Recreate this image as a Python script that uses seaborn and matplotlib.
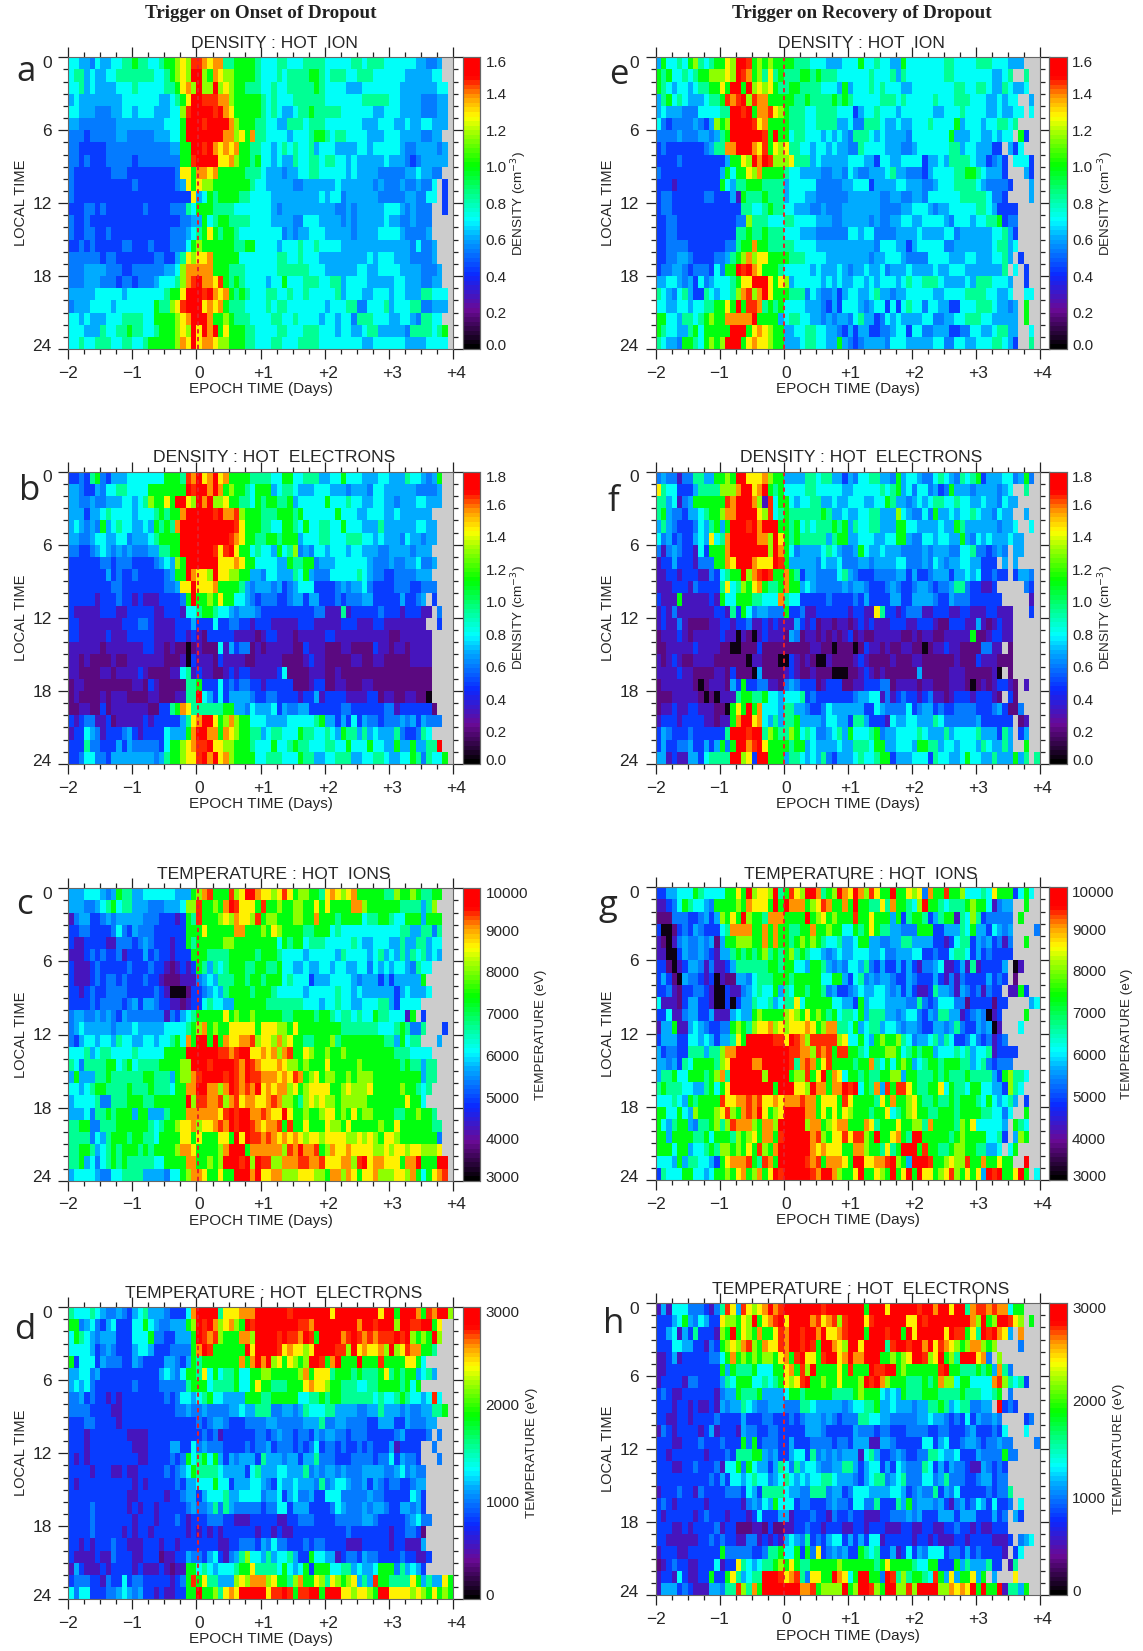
import numpy as np
import pandas as pd
import matplotlib
matplotlib.use('Agg')
import matplotlib.pyplot as plt
import seaborn as sns
from matplotlib.colors import LinearSegmentedColormap
from matplotlib.transforms import ScaledTranslation

sns.set_style('white')
plt.rcParams['font.family'] = ['Liberation Sans', 'DejaVu Sans']

W, H = 1143, 1651

# cell values, one colour level per cell ('.' = no data, grey)
# each row is local time 0..24, each group of 12 cells is one day of epoch time
LEVELS = {'0': .03, '1': .12, '2': .18, '3': .28, '4': .34, '5': .39, '6': .44,
          '7': .52, '8': .62, '9': .72, 'a': .80, 'b': .86, 'c': .91, 'd': 1.0}

panel_a = [
    "665546556677 877667889a9c cbabb7788887 666776667777 666667767776 6666655445..",
    "677565566777 777766789a9d d98ba9988887 666767777887 677766777666 6665555566..",
    "667565555666 766666778ab9 d99d9a988777 667667777787 666655566666 66555555566.",
    "565555555566 6666655678ad dcccbb988888 767666777777 666666677777 66555544455.",
    "665554445566 566655566 9cd dddcdba88888 767655677877 777666666556 66555544455.",
    "554444444555 5555556668dd dcddddb98887 766557776777 666666655566 65565566555.",
    "444344444554 44445556 68dd dddddbb9a8b7 766665666788 767766665556 6655554455..",
    "443333344444 44444445588d dcdbabab8877 665676766756 665555665666 66544555545.",
    "443433344444 34444444488c ddddaab98878 665655766776 776656555556 55543455555.",
    "433333334443 333333334aa8 bbab88888777 655545566776 666656555544 4445565544..",
    "433333333333 4333333345a8 a99888888876 655555445555 556555555454 445445446.3.",
    "433333333333 33333333333a 568788887766 665555555556 566455555544 444554466.3.",
    "333443433333 334333344476 888777766666 665455555555 554454555556 66545444..3.",
    "433433333333 333333333445 586788777766 665555446665 555454555556 55445444....",
    "433443343333 333333344456 78a878876666 666645455666 555554555566 66544445....",
    "334343333344 33343334 4468 988888877886 666566676676 666555555555 555546445...",
    "444444344333 333344335 7a9 aab888886666 666776676665 555555556566 655544445...",
    "444555544433 444444556 9bb bbb888777666 666777777666 555555665566 66555544 45..",
    "444555444344 34445666 79bc dbbac8787666 656686667776 677566665555 5665554455..",
    "555556666656 666666788add dcdbab878766 677667667666 667566655666 56655577666.",
    "455566665666 66668779acdd dabab8777666 676776666666 566677446667 56667744555.",
    "665655566677 776688889abd ddb889877766 667766766665 665664777666 5566547766..",
    "666555766778 776678889a9d adbd8a888776 666776667776 665665567755 55547777678.",
    "667667776677 667888889bad abba99888776 667766677776 666666655666 66655556666.",
]
panel_e = [
    "586676897678 8a9ddc898988 887776665556 668667665586 666666776666 777666555...",
    "878667678899 9a9dcb897a78 777887877766 666676667576 666666776666 6665567..7..",
    "876566567788 a8dd8d9a9a87 788777766658 566676766655 666666667766 7765576556..",
    "578676555677 8cbcd9cbb888 887787777878 766666777676 666676667776 66556566..5.",
    "565554446666 77ddcd8bbca9 877766777766 635667666566 666655666766 665565566.6.",
    "643444454359 89ddddcab888 877766777755 644777655655 666766668566 65667767....",
    "444454445545 78ddddddc8d8 867766656565 477765655554 666666685556 6556566.83..",
    "343333333457 7bbdddbac8a9 a77665665655 447666655544 566666677566 55533.536...",
    "333343333333 3588a9dbdc99 9a7775655555 666553665566 663556577776 553453.6663.",
    "433333333333 58688a9b8888 766555544554 654455567554 443566667788 765553...53.",
    "333233333333 865778887777 566666444445 566635555665 554456667777 6544443...5.",
    "344333333443 335287778777 566655444444 555555445544 554666666777 776443....5.",
    "344333333333 333377667877 665554454445 555555444455 666545566666 77653333....",
    "334433333333 333449777666 776666555445 555545445566 556666546665 66778344....",
    "334433333333 333778778777 666555444444 665664444555 565555664555 55566753....",
    "334444333333 344788b88777 776666555555 555554666553 566666445555 55567756....",
    "334455433334 4578 9b9aa888 877766665555 555545566654 444666655566 5556675.3...",
    "344554344436 488dcdba8887 666665655565 455655645556 555565566655 555557.6.3..",
    "556654536456 6678aaddda8a 956666656565 566565666567 667776555565 7776665..3..",
    "765467533765 6679bc9bda88 877746544535 665567554556 666655666677 77665 56..66.",
    "665566566778 8a8d8ccb7878 666655543536 665456636367 664665533666 77765545.8..",
    "886657767898 8bbbbbd88885 677665545455 467553465655 556644556677 76655555.8..",
    "876655786888 88ddd8aba988 556677665543 535533445663 664455533446 65567755..6.",
    "765548876898 9ddd8abaa988 555677665585 434555546665 555566446655 66677653..7.",
]
panel_b = [
    "334378435556 666666888 7cb dabdab888877 776688667775 566866655566 5557665458..",
    "554335466776 6668888888dc ddbdb8988768 885677655566 655545554665 5555544445..",
    "554454455566 567988a8dda9 dbd99a887768 788778566666 866676655665 5455566555..",
    "5 5 5 3 5 5 6 7 6 6 6 6 5 6 6 6 7 8 7 8 8 b d d d d d c d b b c 9 8 8 8 7 7 7 8 8 8 7 8 6 6 6 6 6 6 8 6 6 6 5 5 6 6 6 5 5 6 5 5 5 5 5 5 . .",
    "5 6 5 4 5 4 8 5 6 7 6 6 5 5 6 5 8 7 8 7 b d d d d d d d d d d c a 8 8 8 7 7 6 6 8 8 7 6 8 6 6 7 7 6 6 8 6 6 6 5 5 5 7 5 5 5 5 5 5 6 6 5 5 .",
    "5 5 4 4 5 6 6 5 5 6 6 4 5 5 5 6 7 8 8 8 8 d d d d d d d d d c b a 8 8 7 7 8 8 7 8 8 8 5 6 6 6 7 7 6 6 6 7 7 7 6 6 5 6 5 5 5 4 6 5 5 4 5 5 .",
    "4 4 3 3 4 5 6 5 4 5 4 5 4 4 4 5 5 7 7 8 8 d d d d d d c a c d a 8 8 6 7 6 6 5 8 6 7 9 4 5 4 6 6 5 6 6 6 5 6 6 5 5 5 4 4 5 5 5 5 4 5 5 5 . .",
    "3 3 3 3 3 3 4 4 3 4 4 4 3 3 3 3 4 5 6 5 9 8 d d d d d d a a a b a 8 8 6 6 6 6 5 5 8 7 7 8 8 4 5 5 5 6 6 6 6 6 6 5 4 4 4 5 4 4 5 5 6 4 4 5 .",
    "3 3 3 3 3 3 3 5 3 4 3 3 4 3 3 3 3 3 4 5 8 8 d b a a 9 d a a 9 9 8 8 5 5 4 6 6 5 5 5 7 6 8 5 4 4 4 6 6 6 6 6 7 6 5 4 4 3 3 4 4 4 4 5 5 5 .",
    "3 3 3 3 3 3 3 3 4 4 3 3 3 3 3 3 3 3 4 4 5 a a d a a a b 8 8 8 8 7 5 4 5 5 5 4 5 3 4 5 6 6 6 3 3 3 3 4 5 4 5 5 6 4 3 3 3 3 4 4 4 3 3 4 4 4 . .",
    "3 3 3 3 3 2 3 3 3 4 3 3 2 3 2 2 2 3 3 3 3 4 8 d 8 8 9 8 a 8 8 6 6 5 4 3 4 4 4 3 3 4 5 5 3 5 5 3 3 3 4 3 4 4 4 5 5 3 3 3 3 3 5 3 3 4 5 .3 .",
    "3 2 2 2 2 2 3 3 3 2 2 3 3 3 3 3 2 2 3 3 3 2 6 6 7 8 8 7 6 6 5 4 5 5 5 4 3 3 3 3 3 3 3 3 3 3 4 4 2 2 2 7 2 3 3 3 3 3 4 3 3 3 2 3 3 3 2 2 . 4 .",
    "3 3 2 2 2 2 2 2 2 2 3 3 3 4 4 3 2 2 2 2 3 3 3 5 3 3 3 6 3 3 4 4 3 3 2 3 3 3 2 2 2 2 2 3 3 3 2 2 2 2 2 3 3 3 2 2 2 3 3 2 2 2 2 2 2 2 2 . . 3 .",
    "3 3 2 2 2 2 2 3 2 2 2 3 3 3 3 3 2 2 2 2 3 3 2 3 2 1 3 3 3 3 3 2 2 2 2 1 2 3 3 2 2 2 1 2 2 2 2 2 3 3 2 2 2 2 2 2 2 2 2 2 1 1 2 2 2 2 2 2 . . . .",
    "2 2 2 2 2 2 1 2 2 2 2 2 2 2 3 3 2 2 1 2 1 1 0 1 2 1 1 1 6 2 5 3 4 4 1 2 1 2 2 2 2 2 1 1 3 2 2 2 1 1 1 2 2 1 1 1 1 3 2 2 1 2 2 1 2 2 2 2 . . . .",
    "2 2 1 2 1 1 1 1 2 1 1 2 2 2 2 2 2 2 1 1 1 2 0 3 2 2 2 1 3 2 2 2 2 1 1 2 2 2 2 2 1 1 1 1 2 3 2 2 1 1 1 1 1 2 2 1 1 2 2 1 1 1 1 1 2 2 2 2 . . . .",
    "2 2 1 1 1 1 2 2 1 2 2 2 2 3 2 1 1 1 1 2 2 6 7 2 3 2 2 1 1 2 3 2 3 3 2 2 2 2 2 3 6 1 1 1 1 2 2 2 1 1 2 1 1 1 1 1 1 1 1 1 1 1 1 1 1 1 1 1 . . . .",
    "1 2 2 1 1 1 1 1 1 1 1 1 2 2 1 3 2 1 1 1 1 1 7 7 8 3 3 3 6 3 4 3 4 4 3 3 2 3 3 3 3 3 1 1 1 2 3 3 1 1 2 2 1 1 1 2 2 1 1 1 1 1 1 1 1 1 1 1 . .",
    "1 2 1 1 1 1 2 1 2 2 2 1 1 1 1 2 2 1 1 1 2 2 7 7 d 6 5 3 6 3 5 5 5 5 4 3 3 4 4 3 3 3 3 2 3 3 5 2 3 3 3 3 2 2 2 2 3 3 1 2 2 1 1 2 2 1 1 0 . .",
    "1 1 2 2 1 1 3 1 2 2 2 2 2 2 2 1 1 3 3 7 8 b a 7 7 7 7 7 7 8 8 5 5 4 6 5 5 5 6 3 5 4 4 5 5 3 3 3 3 3 3 4 4 3 3 3 3 3 3 4 4 2 3 3 3 3 3 3 1 .",
    "3 2 3 4 4 2 2 3 1 2 2 2 2 2 3 2 3 3 3 3 3 5 7 a b d d a 8 9 b 9 8 8 6 6 6 5 5 5 5 6 6 6 6 6 7 8 5 5 3 5 3 6 3 5 4 4 3 4 4 4 5 4 5 3 5 4 4 4 . .",
    "2 3 3 6 5 4 2 3 3 3 4 5 3 2 3 3 3 3 6 5 5 5 8 b d d b b 8 b a 9 8 8 7 7 5 6 7 7 6 6 6 8 7 7 6 6 7 6 5 8 7 7 5 7 5 6 5 5 5 7 4 3 3 4 7 6 . .",
    "3 3 3 7 4 4 3 3 3 5 3 5 4 4 4 4 4 3 6 8 8 9 a b c c d a a 9 9 8 8 8 7 6 6 6 8 6 6 7 8 7 7 6 6 6 7 7 6 6 8 6 6 6 8 6 6 5 5 8 5 5 8 5 5 7 7 d .",
    "3 3 4 6 6 4 4 3 5 5 5 5 5 5 5 5 4 5 7 8 8 9 a a c d b d a b 9 8 8 8 8 6 6 7 7 7 6 6 6 8 7 7 5 5 6 6 7 7 7 5 5 6 6 7 7 6 5 5 6 6 8 7 4 7 6 6 8 .",
]
panel_f = [
    "4 5 4 4 2 4 4 7 7 5 5 8 8 9 8 d d a a a b 9 8 8 5 5 5 5 7 7 6 7 7 5 5 3 5 4 6 6 7 7 5 5 4 8 5 6 6 5 4 4 6 7 6 5 4 7 6 7 8 3 5 5 5 6 6 4 5 8 4 . . .",
    "a 7 6 6 3 3 3 5 7 7 7 7 9 9 9 b d d a b d 8 7 8 6 6 6 6 7 7 6 6 6 6 6 5 5 6 6 6 6 6 7 6 7 8 5 6 4 6 6 4 5 3 4 8 5 5 5 4 5 5 5 5 4 5 6 . . 7 . . .",
    "7 7 5 6 2 4 5 8 8 8 8 8 8 c b d d d b 9 2 c 6 8 8 6 5 6 6 7 7 5 5 6 5 5 6 6 6 5 5 6 6 8 7 5 5 4 5 6 5 6 7 7 6 6 7 6 6 5 5 6 5 5 4 6 5 5 . . . . .",
    "7 8 5 4 4 3 5 5 6 7 8 8 9 b b d d d d a 9 c 6 7 8 7 7 7 7 7 7 8 7 5 5 6 5 5 6 6 7 7 5 5 5 9 6 5 4 4 6 4 8 5 5 6 5 6 6 7 6 5 5 4 6 5 5 . . 5 . . .",
    "5 7 5 4 3 3 3 4 6 5 7 8 5 8 d d d c d b d d d 8 8 7 8 6 7 6 7 7 7 8 7 8 5 7 6 6 7 7 5 5 5 8 8 6 6 5 5 5 5 6 5 5 8 7 5 5 5 5 5 5 4 5 5 6 . . 6 . .",
    "6 4 5 3 4 3 3 5 6 5 a 6 7 b d d d d d b b 9 d a 8 7 8 7 7 7 7 7 5 7 8 8 5 5 6 6 6 5 5 6 6 8 8 5 4 4 6 6 5 6 6 5 5 8 5 4 6 5 6 5 5 5 6 5 5 . . . . .",
    "4 2 4 5 4 3 3 2 6 3 8 8 8 b d d d d d d d 9 d b 8 6 4 5 5 5 5 6 7 6 5 4 4 5 8 6 5 5 6 5 5 5 4 4 4 4 5 4 5 5 5 4 4 6 6 7 4 4 3 4 5 4 . 5 5 . . .",
    "2 3 3 5 3 3 3 2 4 4 4 8 8 b a d d d b a a a d c 8 5 5 5 5 5 4 6 5 5 6 4 4 4 5 5 4 5 5 5 5 6 6 4 4 4 5 4 6 5 4 5 5 6 6 5 5 3 3 3 . 5 . 5 . . . .",
    "2 2 3 3 2 3 3 3 2 2 4 3 6 7 8 8 d 9 b c d c 8 8 b 8 7 3 5 5 4 4 4 4 6 7 5 4 3 3 3 4 4 4 4 5 5 3 5 3 3 4 5 5 5 3 5 5 6 5 6 3 3 4 3 3 . 3 5 5 4 .",
    "2 2 2 3 3 3 2 4 3 3 3 3 7 a 6 7 9 8 a b 8 7 7 8 b 8 8 5 6 5 4 4 4 4 4 5 4 5 5 4 3 3 3 4 5 4 3 3 4 5 5 4 3 4 4 5 7 7 4 3 3 2 2 3 . . . . . 4 3 .",
    "3 2 2 2 8 2 2 2 2 2 3 2 8 6 6 8 8 8 7 7 6 6 6 b 7 6 6 3 3 3 3 3 4 3 3 3 3 4 3 5 3 3 3 3 5 5 3 3 5 5 5 5 4 3 3 5 4 4 4 3 3 3 3 3 3 . . . . . 2 .",
    "2 3 2 4 2 2 2 2 2 2 2 3 3 2 7 3 8 6 4 5 5 4 4 4 8 3 3 4 2 2 3 3 3 3 3 3 2 3 3 2 2 a 7 3 3 2 3 4 4 4 2 2 3 3 3 2 2 3 3 2 2 2 3 3 2 2 2 . . . 3 .",
    "2 3 2 2 4 2 1 1 1 1 2 2 3 3 2 3 3 4 2 2 3 2 3 2 2 2 5 3 2 3 1 2 2 1 2 2 1 2 3 2 3 2 2 2 3 3 3 2 2 3 3 3 2 1 1 3 3 3 2 2 5 2 1 2 3 2 2 . . . . . .",
    "1 2 2 2 3 2 1 2 2 2 2 2 3 2 2 0 2 1 0 2 3 2 2 2 1 5 4 1 2 2 1 2 1 2 1 2 3 1 2 1 1 2 2 2 2 2 1 1 2 1 2 2 1 1 2 2 2 2 2 8 1 1 2 3 3 2 2 . . . . . .",
    "1 1 2 2 2 2 2 3 2 2 2 2 1 1 0 0 1 1 1 3 1 1 1 1 1 1 1 1 1 2 2 1 1 0 1 1 1 0 1 3 2 2 1 2 1 1 2 2 1 1 0 1 2 2 3 2 2 1 1 1 1 4 4 2 2 . 1 . . . .",
    "2 1 2 3 2 1 1 2 2 2 2 1 1 1 1 1 1 0 2 2 1 1 1 0 0 3 2 1 2 1 0 0 2 1 1 1 1 2 3 2 1 1 1 1 2 1 1 1 2 2 1 1 1 1 1 1 2 1 1 1 3 2 2 2 1 1 1 . . .",
    "2 2 2 2 3 2 2 1 1 1 1 2 2 1 3 1 1 1 0 5 1 1 1 1 2 3 2 1 1 2 1 1 1 0 0 0 1 1 2 3 2 1 2 1 1 1 1 1 1 5 1 1 1 1 1 2 2 2 1 1 1 1 1 2 0 . 1 . . .",
    "1 2 2 2 2 2 2 1 0 1 2 2 2 1 5 3 8 3 3 4 4 2 2 1 4 5 4 3 3 3 1 2 3 3 3 1 1 2 2 3 3 3 4 4 1 2 2 2 2 1 2 2 1 1 1 2 2 2 1 0 1 2 1 2 3 3 2 1 . 2 . .",
    "1 1 1 2 2 2 2 2 1 0 1 0 2 2 2 7 8 8 7 7 8 6 6 5 6 6 6 7 3 4 3 3 3 3 3 3 3 4 5 5 6 6 2 4 2 3 4 3 3 2 3 4 2 2 1 2 3 3 3 2 3 3 3 2 1 . 3 1 . .",
    "1 2 2 3 2 2 3 3 2 2 2 1 1 0 8 a 8 d 8 b 6 6 6 5 7 7 5 5 4 3 3 4 6 5 5 5 5 5 5 3 3 6 5 4 4 4 4 6 3 4 5 5 3 4 3 3 4 4 4 4 3 3 3 4 5 3 1 1 4 .",
    "2 3 3 3 2 3 3 3 3 2 2 1 2 2 8 b d d a b 6 5 7 5 7 7 8 5 5 5 5 4 6 6 5 5 3 7 7 5 3 3 3 2 6 5 5 6 6 5 5 5 7 6 4 4 4 4 4 4 5 3 3 3 3 3 3 . 1 2 .",
    "3 5 4 3 3 3 4 3 3 3 3 3 3 7 d d d c d d 7 9 8 7 7 9 8 6 7 6 4 4 5 6 7 5 8 6 6 6 7 8 4 5 5 6 6 6 6 7 6 5 5 5 7 5 6 6 6 6 7 5 5 5 3 7 5 . 3 5 .",
    "3 5 3 3 4 4 5 3 3 5 3 5 8 4 8 d d b c d a 8 8 8 8 7 8 8 5 6 5 5 5 5 6 5 5 7 7 7 6 8 8 5 5 6 6 6 5 8 8 7 7 5 6 6 5 6 6 6 5 7 6 5 5 7 5 . . 8 . .",
    "5 5 2 3 2 2 5 5 3 6 7 7 7 7 d d 9 a 3 d d 8 8 8 5 7 7 6 5 6 5 7 4 3 5 5 5 6 7 6 6 7 8 8 3 5 5 5 6 6 6 3 7 6 6 5 5 6 8 6 6 5 5 7 5 5 5 8 5 7 . 7 .",
]
panel_c = [
    "555666 545877 5 5 6 6 6 6 6 6 5 5 5 8 9 b c 8 8 8 c 9 a d d b a a 9 a c a 8 9 9 8 8 7 a b a 9 a b 8 8 8 8 8 7 7 9 8 8 9 8 7 7 8 8 .",
    "5 5 5 4 4 5 6 7 8 6 7 7 5 5 5 4 4 4 5 5 5 6 9 9 c 8 8 9 8 b d c a a a 8 c 8 8 9 8 8 9 9 8 8 a 8 a 8 8 8 8 b b 9 8 8 8 8 8 8 7 7 7 7 5 7 9 . .",
    "2 4 5 5 3 3 4 5 4 5 5 5 5 5 4 4 4 3 3 3 2 3 8 7 c 8 8 8 9 a 9 b a a 9 c 8 9 9 8 8 8 9 9 8 8 b 8 8 8 7 8 8 8 8 6 7 7 8 8 7 6 6 8 8 8 5 8 8 8 .",
    "3 3 4 4 3 3 3 3 4 6 4 3 5 4 4 4 3 3 3 3 3 3 8 8 8 a 8 8 8 8 8 b b 8 8 8 9 8 a 9 8 8 8 8 7 7 8 8 8 6 7 6 6 6 6 6 6 6 6 6 6 6 7 7 5 5 7 7 4 7 .",
    "3 2 2 3 3 3 3 2 2 4 4 4 3 4 5 4 3 3 3 2 3 3 8 7 8 8 8 8 8 9 9 8 8 8 8 8 8 8 8 6 8 7 8 8 6 7 7 7 6 6 6 6 6 7 6 5 5 6 6 6 5 5 7 5 5 7 7 5 6 6 .",
    "2 2 2 3 4 3 4 3 3 4 2 3 3 3 5 3 4 3 3 2 3 3 3 8 8 8 7 7 7 7 8 8 8 8 8 7 8 8 8 7 6 6 6 6 5 6 6 6 6 6 5 7 6 6 6 6 5 6 7 5 6 5 7 5 7 6 7 5 6 5 .",
    "3 2 2 2 3 4 3 3 3 3 3 4 3 3 3 4 3 3 2 1 2 3 2 3 8 7 5 7 6 7 8 8 8 7 7 8 8 7 7 8 6 6 5 5 6 5 5 6 6 5 6 6 5 5 6 6 4 6 5 6 5 6 6 5 4 7 6 6 . .",
    "3 2 2 2 3 4 3 4 4 3 4 3 3 3 4 3 3 2 1 1 1 2 2 2 4 5 6 5 7 7 7 8 8 7 8 8 7 8 8 8 6 7 6 6 6 3 5 5 5 6 6 6 6 5 4 5 5 5 3 5 3 5 5 5 5 5 8 . .",
    "3 3 2 3 4 3 3 4 4 4 4 3 3 3 3 3 4 3 2 0 0 0 1 3 3 4 5 6 5 7 8 8 8 8 7 8 8 8 7 6 6 6 6 6 5 6 6 6 6 6 7 6 6 5 6 5 5 5 5 5 5 3 5 6 5 5 5 6 .",
    "3 3 3 3 4 3 4 4 4 4 3 4 5 3 5 5 4 3 3 2 2 1 2 3 3 6 7 6 6 5 5 8 8 8 8 8 8 7 7 7 7 7 7 7 6 6 6 5 6 6 7 6 6 5 5 6 6 6 7 7 5 3 6 6 6 6 . . . . .",
    "4 5 5 4 4 5 4 5 4 3 5 4 4 4 4 4 4 4 2 4 3 5 6 7 8 8 8 8 8 a 8 9 8 8 9 8 8 8 8 8 7 7 8 8 8 8 7 8 8 7 6 7 7 6 7 6 6 8 7 7 6 6 6 2 8 . 3 . .",
    "4 5 6 5 5 5 5 5 4 5 5 5 6 5 5 5 5 5 6 6 6 6 7 8 9 b 8 9 8 8 a a a a a 8 a a a 9 9 8 a 8 8 8 8 8 8 8 8 7 7 7 7 7 7 7 6 6 6 7 8 7 4 4 7 . . . 3 .",
    "4 3 5 6 6 5 6 6 5 7 6 6 5 5 6 6 5 6 6 7 8 6 b 8 d d 8 d 8 b a a b b c 9 a a 9 b 9 a 8 8 7 7 8 8 8 9 7 8 8 8 8 8 8 8 8 7 7 5 8 6 7 7 . . . 5 .",
    "6 6 6 7 5 6 7 7 6 6 6 6 7 6 6 6 6 6 8 8 8 8 d d d d d d c c b c d d a a b a b 9 b c 8 8 a 9 8 8 9 8 8 9 8 8 8 8 8 8 8 8 8 7 7 7 6 6 6 6 . . . . . .",
    "7 6 4 7 7 7 7 8 8 6 7 8 6 7 7 7 7 8 8 8 8 9 9 d d d c d d d d c b d c b a a a b a 9 9 8 9 8 8 8 a 8 8 8 8 8 9 8 8 8 8 8 8 8 7 8 7 7 5 7 7 . . . . . .",
    "5 8 5 5 5 7 7 8 7 7 7 7 7 7 8 8 7 7 7 5 8 9 9 b c d d d d c d c b d c c b b b a b a c b 8 9 a 8 9 9 8 8 9 8 9 9 9 8 8 8 8 8 8 8 8 8 5 7 7 . . . . . .",
    "6 6 5 6 7 8 8 7 7 7 7 8 7 7 7 8 7 7 7 6 8 8 b b d d b b 9 b d c b c b d a b a b b 9 a 8 9 a a a a 8 8 9 a 9 9 9 a 8 8 8 8 8 9 8 8 7 6 7 . . . . .",
    "5 6 6 6 6 7 4 4 7 7 7 8 8 8 7 7 8 8 8 8 8 8 d 9 c c b b c 9 b c a b b a a b c b 9 9 8 7 9 a 9 a 9 9 8 9 9 9 9 9 8 8 8 8 8 8 8 a 8 8 6 . . . .",
    "5 5 5 6 4 7 7 8 7 8 8 8 5 8 8 5 5 5 7 8 8 8 b b b b b b a c d c d d b b c b a a d a 8 8 9 8 8 9 a a 8 9 8 a 8 9 9 8 8 8 8 7 7 8 8 9 8 8 7 . . .",
    "7 7 8 8 4 4 7 7 7 8 8 8 8 8 8 7 6 7 8 8 9 a a b 9 a a b c b d c d d c b a b b c 8 c 8 8 a 8 8 8 a 9 9 8 a 8 8 8 8 8 9 8 8 a 8 8 8 8 8 8 7 7 . .",
    "7 7 7 7 4 6 5 7 8 8 8 7 8 8 7 7 6 8 8 8 8 a a 8 a 8 8 8 a a 8 d a d c c b c b a b a b a 9 a a 9 a a a a 9 9 a 9 a 9 8 a a 9 8 8 8 8 8 8 8 4 .",
    "7 7 8 8 7 5 6 7 8 7 8 8 8 7 8 7 8 8 8 8 9 b b a 8 8 8 8 9 b d d d 8 b b b b b b 9 c b d b b c 8 9 b a a b a a a a 9 9 a 9 a a 9 a a 9 9 9 a . .",
    "7 7 8 5 6 4 6 7 8 7 8 7 7 7 7 7 6 6 8 8 8 8 b b 8 8 9 8 9 d d d c d 9 d c c 9 9 b b b c c b b c a a a b b 9 c d a b b a a a 8 b b d 8 8 8 d d .",
    "5 6 6 6 6 5 4 4 6 6 7 7 7 7 5 5 5 5 4 6 6 8 9 b b a 8 8 a 8 8 d d d b d a a b b 9 9 9 a a a 9 9 8 b b 9 b a 8 a a b 9 9 9 a a 9 b 8 6 8 a b c .",
]
panel_g = [
    "3 3 5 5 6 6 6 8 7 6 6 6 6 8 8 a 8 d 9 a a 9 d 7 8 c a 9 d d b 7 8 9 d b a d b 9 c a 8 8 d 8 8 a 9 a 4 b 8 8 c 8 8 9 6 6 6 7 6 a 8 8 8 3 6 8 6 . . .",
    "2 2 3 4 6 8 7 6 6 5 4 8 8 8 8 9 8 b a a a 8 d 8 d b b b 8 9 a c b 8 8 b 8 d 8 8 7 7 a 7 b 8 8 7 6 9 d 8 8 7 6 7 7 7 8 9 8 8 6 2 4 5 5 . . 8 . . .",
    "1 1 1 4 4 4 3 3 4 5 3 5 9 8 a 8 d 9 8 8 7 b b b 8 8 8 8 d 8 9 a 8 9 8 8 8 c 8 8 a 8 8 8 5 8 3 7 8 8 7 3 5 7 8 8 2 7 6 9 7 3 4 4 4 4 4 . 8 . . .",
    "3 0 0 1 3 4 3 5 4 3 3 3 6 7 b b b b 8 8 b 8 b 8 8 7 7 8 8 b 8 8 9 8 8 6 6 8 7 8 a 8 7 7 5 5 4 4 4 8 8 8 3 3 5 5 5 7 6 8 5 5 3 6 5 4 5 . . . . 4 .",
    "2 1 0 2 4 5 4 4 5 4 5 1 5 8 8 9 9 9 8 8 b 8 b 8 8 7 8 9 8 9 8 7 6 6 7 5 5 6 8 8 5 5 4 4 5 5 7 7 5 5 5 5 3 3 2 3 6 7 7 3 5 4 5 3 4 2 4 . . 8 . . .",
    "2 2 0 0 3 5 4 4 5 4 3 2 5 5 7 8 7 8 7 8 9 7 8 7 8 9 7 8 7 6 6 5 4 5 6 5 5 6 6 6 5 5 6 4 4 5 5 5 6 6 3 3 4 3 3 6 7 7 6 3 5 3 4 3 3 3 3 . . . . . .",
    "3 3 1 0 2 3 5 5 4 2 4 2 2 3 5 7 7 7 7 7 7 8 8 7 8 8 6 6 5 8 8 7 5 4 5 4 6 6 5 7 4 3 5 3 3 5 3 5 3 2 4 4 5 6 2 2 3 5 2 7 2 3 3 3 3 5 . 0 2 . . .",
    "3 5 3 1 0 5 4 4 3 2 3 0 2 1 1 5 5 4 6 7 7 7 8 8 8 7 8 8 8 8 8 6 6 8 8 5 3 6 7 4 5 4 5 5 4 3 3 5 4 3 3 3 5 3 2 4 2 4 3 3 3 3 5 3 4 3 . 1 . . .",
    "3 3 4 2 1 3 3 4 4 3 2 0 0 3 2 2 4 5 6 7 6 6 8 5 7 6 8 8 7 8 8 7 4 5 3 3 4 5 6 5 5 6 6 5 4 5 3 5 3 2 2 3 7 5 5 4 2 5 4 3 4 2 4 3 3 . 2 2 8 3 .",
    "6 2 2 2 1 3 5 5 3 3 2 0 0 3 0 3 5 5 7 6 6 7 5 6 7 7 a 6 8 8 8 8 8 6 6 5 5 3 8 5 6 6 6 5 5 5 5 4 4 7 4 3 4 6 6 6 4 4 1 3 3 3 3 1 3 3 . . . . 5 6 .",
    "3 3 6 2 2 4 5 5 3 3 5 2 2 2 5 6 5 5 8 9 8 8 8 8 9 a 9 8 a 8 9 8 7 8 6 7 7 6 8 5 7 7 7 5 5 4 5 6 6 4 3 5 4 7 7 5 5 2 3 4 5 4 0 2 3 . . . . 8 .",
    "2 5 5 8 2 2 5 6 5 4 3 3 4 4 8 9 8 7 9 a a b 9 a 9 a a a b a 8 9 b b 7 7 6 8 5 6 7 7 5 6 6 5 4 5 5 4 3 3 5 5 4 5 7 4 3 3 5 4 5 0 2 . . . 6 . . .",
    "3 5 5 5 3 3 6 6 5 6 5 3 5 5 7 a 8 d d d d d c c a d c b 9 c c c c c 9 a 6 6 8 6 5 8 9 8 8 9 7 6 4 5 5 6 7 5 7 6 3 3 4 6 4 3 4 2 3 4 . . . . . . .",
    "5 3 4 4 3 3 7 7 7 5 7 7 9 b b d d d d d d d d d d c c b b 9 c b c 8 c c 8 8 7 6 8 8 8 9 9 8 6 7 8 7 8 8 5 6 6 6 7 6 7 5 6 6 7 2 3 3 3 3 . . . . . .",
    "5 5 4 5 3 7 6 8 8 8 8 7 9 a d d d d b b d d d d d c 7 b c b 8 a c 8 8 8 8 7 8 8 b 7 6 8 6 8 9 8 5 6 7 8 8 7 8 8 8 7 7 5 6 7 4 3 4 4 4 . . . . . .",
    "5 7 7 8 6 6 8 8 8 7 8 9 b 7 d d d d d d 9 d d d d 8 9 9 c 8 a d 8 b a 6 8 8 7 8 7 7 8 8 9 9 5 8 8 7 7 7 8 7 8 7 7 7 8 7 7 7 7 5 3 8 9 7 7 6 . . . . .",
    "7 8 7 7 7 6 6 5 5 7 8 6 8 a d d d d d d d d 8 d d d a a 9 d b b 8 b b d c d 6 8 7 b 5 c 8 c c a 8 7 7 8 8 a 6 8 7 7 6 8 8 6 6 5 5 3 9 7 6 . . . . .",
    "6 6 6 7 6 5 8 7 8 8 8 8 c a a b b c b c a a b a b b b c b b 8 a a a 8 c a 8 8 8 8 7 a 8 b 8 8 9 a 8 7 7 8 7 7 8 7 8 8 8 7 6 8 6 5 6 7 5 . 3 . . .",
    "8 8 6 6 8 6 5 9 8 8 8 9 a c 9 8 b c b d a 8 9 a d d d d b b 8 a 8 a 8 a 9 8 8 8 7 8 8 a 6 7 8 9 a 8 8 7 7 8 8 8 7 8 8 8 8 7 7 6 6 4 6 . . 8 . . .",
    "8 6 5 7 8 8 5 4 7 7 8 9 7 9 c b b b 9 8 b b 9 d d d d d 9 b b 8 9 a b b 8 8 8 b a 7 8 8 8 a 8 8 9 9 7 b 8 8 8 8 7 9 8 a 6 6 6 6 6 5 . 8 7 6 . .",
    "8 8 5 8 8 8 8 7 7 8 6 8 8 8 7 9 8 9 a 8 b b 8 c d d d d d b c 9 8 a a c a c c 9 8 d 8 8 a b 8 7 d d 8 8 8 8 8 7 8 9 8 8 8 8 6 6 7 3 . 5 9 8 . .",
    "8 8 8 6 8 8 5 6 6 7 8 7 9 9 8 9 8 a 8 c 9 8 b d d d d d d b a b a a a 8 8 b b 9 8 8 7 a 7 8 d d d 8 c 8 8 7 7 8 9 9 8 8 7 7 5 5 6 . 6 8 . .",
    "6 6 6 5 8 5 7 7 6 6 5 3 8 a b b b c 8 7 c b 8 d d d d d c b c 8 b b b a 8 d d a a b b c d 9 8 5 d d d c 8 8 9 a 9 9 c 8 8 b 8 8 a 8 8 . . d . .",
    "3 7 6 6 6 8 8 6 6 5 6 8 8 9 8 a b 8 9 b 8 a d c d d d d d c b d d b 9 8 8 a d 8 8 a 9 8 d 8 a d 8 d a a 8 9 a c 9 8 a 8 a 5 d c d 8 8 a d 8 . 6 8 .",
]
panel_d = [
    "7 6 6 6 7 6 5 4 4 5 4 3 5 6 7 5 5 5 4 3 3 3 6 b d d d d 7 a a a b b b d d d d d d c d d d d d d d a d d d d d d d d a d d 8 d d d b 8 c b d d 9 8 . .",
    "8 8 4 5 6 4 3 5 6 3 3 3 6 6 8 6 5 4 4 5 5 5 8 9 d c d b 9 a b 9 8 d c d d d d d d d d c c b d d d d d d d d b d d c d d d 9 d d c c d d 8 a . .",
    "6 8 7 6 5 4 5 5 5 3 3 3 6 6 6 8 4 4 3 3 5 5 5 8 d c b c 9 8 8 8 b b 9 d d d d c d c c b d c 8 d d d d b c d c b c b c c c d c d 9 8 9 8 d 9 . .",
    "6 6 6 6 5 3 4 5 4 3 3 3 5 6 6 5 3 3 3 4 4 4 4 8 b d c 8 8 8 8 8 8 d a d d d d c a b a a 9 a d d d d c c 9 d a b a a b 9 d 9 a c b b 8 8 7 . .",
    "8 3 6 6 6 3 5 4 4 4 3 3 5 4 3 3 3 3 5 5 4 3 5 8 7 8 8 8 8 8 8 8 b 8 b d b d 9 a 8 a 9 8 9 d d c 8 b d 8 8 8 d 8 8 8 c 8 8 8 8 a a 8 6 . .",
    "5 5 6 6 4 5 3 3 3 3 3 3 3 3 3 3 3 5 6 5 4 6 8 8 7 a 6 8 6 7 7 8 6 6 8 8 9 9 8 8 8 8 8 9 b 8 a a a 7 8 8 8 7 8 7 7 7 8 a 7 8 7 8 8 5 6 7 5 . .",
    "5 6 5 6 4 3 3 3 3 3 3 3 4 3 3 3 3 4 4 4 4 4 7 8 8 8 6 7 7 7 7 8 6 6 8 a 8 8 7 7 7 8 8 8 a b a a 9 8 8 7 7 7 6 6 7 7 8 8 8 8 7 8 6 8 . .",
    "4 4 5 3 4 3 3 2 3 2 3 3 3 3 3 3 3 3 4 3 4 6 6 5 6 7 8 6 6 5 5 5 5 8 8 8 7 7 8 8 8 8 8 6 6 7 7 8 7 8 8 7 7 7 7 7 7 6 7 6 6 7 8 7 6 6 5 6 c 6 .",
    "4 4 4 4 3 3 3 3 2 2 3 3 3 3 3 3 3 3 3 3 4 4 5 4 4 5 4 4 4 4 5 5 6 5 5 7 7 7 4 4 5 5 4 5 7 6 6 6 7 7 5 5 5 5 4 4 5 5 7 5 5 5 4 5 4 4 5 5 7 7 8 .",
    "3 3 3 4 4 3 3 3 3 2 3 3 3 3 3 3 3 3 3 3 3 3 3 3 4 3 4 5 5 4 3 3 3 4 4 4 4 5 5 4 4 4 4 4 5 5 5 7 4 4 5 5 4 4 4 4 3 3 5 5 5 3 3 5 4 4 4 5 5 .",
    "3 3 3 2 3 3 3 3 3 3 3 2 2 2 2 3 3 3 3 3 3 3 3 3 3 4 3 4 2 3 3 3 3 3 3 4 4 3 4 5 4 4 3 4 4 3 5 4 5 5 4 4 3 4 4 4 3 3 3 3 3 4 5 3 3 3 3 4 . 4 .",
    "3 3 3 2 3 3 3 3 3 3 3 3 2 2 2 3 3 3 3 5 5 3 3 6 4 5 4 4 4 3 3 3 3 4 3 4 4 5 3 4 4 4 3 4 3 4 6 3 4 4 3 4 3 3 4 3 4 3 3 3 5 2 3 3 3 3 . . 4 .",
    "3 2 3 2 3 3 3 3 3 3 3 3 3 2 2 3 3 3 3 4 3 4 8 6 7 8 6 8 5 3 5 4 5 5 5 3 7 5 5 5 4 5 5 3 5 5 7 4 4 4 3 3 3 4 4 4 4 3 4 4 6 3 5 4 4 3 . . . 4 .",
    "3 3 3 3 2 3 3 3 2 2 3 2 2 3 3 3 3 3 4 3 4 5 6 8 7 7 7 7 6 5 5 5 5 3 6 7 5 5 5 6 6 5 5 5 7 4 5 4 5 5 4 5 4 4 4 5 5 5 5 4 4 5 6 4 5 4 4 . . . . . .",
    "3 2 3 3 3 3 3 3 3 3 3 3 2 3 2 3 3 3 3 3 4 3 5 5 6 6 6 8 6 6 3 5 5 5 6 6 5 4 3 6 5 5 6 5 5 5 4 7 4 5 6 6 5 4 4 5 3 5 4 3 4 4 3 3 4 5 5 . . . .",
    "3 3 3 3 3 3 3 3 3 3 3 2 2 3 3 3 3 3 2 3 3 4 5 5 3 5 6 6 6 7 5 5 6 6 6 6 4 5 5 6 3 5 6 4 4 5 3 3 6 6 6 4 4 4 4 4 5 4 4 3 3 3 3 3 6 5 3 . . . .",
    "3 3 3 3 4 3 3 3 3 3 3 2 3 2 3 3 2 3 3 3 3 3 4 5 4 4 5 7 4 7 5 4 4 4 4 4 3 4 4 6 6 3 5 5 5 3 3 3 3 4 6 5 4 4 4 5 4 5 5 4 3 3 5 5 4 5 3 . . . .",
    "3 3 3 3 4 3 3 3 3 3 3 3 2 3 3 3 2 3 3 3 4 3 2 3 3 3 4 4 4 3 3 2 2 2 3 3 3 3 3 2 2 3 3 4 4 4 3 3 3 3 4 4 4 4 4 5 5 4 3 3 3 3 3 4 5 6 4 4 . . . .",
    "3 3 3 3 4 3 3 3 3 3 2 3 2 3 3 2 3 3 3 3 3 3 2 3 2 3 2 3 2 3 3 3 3 3 3 2 3 3 2 3 2 2 3 3 3 3 3 3 3 3 3 3 4 3 3 3 3 3 3 3 2 3 3 4 4 3 1 . . .",
    "3 3 2 3 2 3 3 3 4 3 3 2 2 2 3 3 3 2 3 3 2 3 3 3 3 3 3 3 2 2 3 3 4 4 4 3 5 4 6 4 4 3 3 3 4 3 4 4 3 3 3 3 2 2 2 3 3 3 3 3 2 3 3 2 2 2 5 . . .",
    "3 2 2 2 2 3 2 2 4 3 3 3 2 2 3 3 3 1 2 2 3 3 5 4 4 3 5 6 3 2 4 5 7 9 6 6 5 7 5 6 6 7 5 3 3 8 6 6 5 5 2 3 4 4 3 5 4 4 3 3 3 3 4 3 3 2 2 3 .",
    "2 5 3 2 2 2 3 2 3 3 3 3 2 3 2 2 2 3 2 1 2 2 8 8 6 7 6 5 6 6 6 7 8 8 a 7 7 7 7 6 8 6 5 6 8 3 8 8 8 6 6 7 7 5 6 5 5 6 8 8 8 4 7 5 6 5 3 . . . .",
    "3 4 4 4 3 3 2 4 3 3 6 3 4 4 3 3 3 3 3 2 3 4 8 c 8 a 7 7 5 5 5 9 a 9 b b b 9 a 8 8 7 9 b 8 8 a 9 7 a 9 8 9 a 5 7 5 c 8 8 7 7 7 7 a 8 5 7 5 5 a 8 .",
    "6 4 6 6 3 3 3 4 4 5 6 5 4 5 3 3 2 3 2 2 3 3 8 8 d 8 8 9 7 a b a d d d d d a c c d c 8 c c d d 8 d d d a a 9 a a 9 8 d d a a a a 9 a 9 8 a 8 9 8 .",
]
panel_h = [
    "2 5 2 6 6 6 4 4 4 3 2 4 7 c a 5 c a 9 a b d b c d d d d d d d c d d d d d d d 8 d d d a d d d d d c d d b d d a d d 7 b c c b c b b 6 8 8 . . .",
    "3 3 3 5 6 8 5 4 6 5 3 3 a 9 9 8 a 9 d 8 a b c d a d d d d b c a b c 9 c d d d a c d d d d d d a a d c d d d d d d d d b 9 d 8 9 d d c a 9 . 8 . .",
    "3 3 5 6 2 5 3 7 3 3 3 2 9 8 d 8 a 9 8 b 8 8 a c b d d c d d b d a a b c d d d 8 d d d c d d 8 d a d d d d d a d c c 8 a 7 d c d b a 5 . b . .",
    "3 3 3 6 6 5 5 3 3 2 4 3 8 9 a 9 b c 9 8 b a a c b d d c d c 8 d d b a 9 d d a d d d d 7 c d d c d d b d a c b a 9 8 9 b b 9 8 9 . . . . 4 .",
    "2 2 3 5 2 3 3 3 3 3 4 4 6 8 b 8 9 8 9 8 9 9 8 a b 8 c d a a 8 c d d a b d b b d d d 8 8 9 8 9 a d d c 9 a d 8 9 7 d d d a b 4 . 9 . . . . .",
    "2 2 3 3 3 3 3 3 3 3 3 3 8 5 8 7 7 7 8 6 6 6 8 8 a b 8 c 9 d 8 8 8 8 a 8 c 8 8 8 d c c d d 8 9 8 8 8 8 8 8 c d 8 8 7 7 7 8 7 8 5 b 7 4 . . . . .",
    "2 3 3 3 3 2 4 4 3 3 3 3 5 7 6 8 8 8 6 6 7 6 7 8 a 9 a c d 8 8 9 8 8 a 8 8 8 9 d c d b 9 8 8 8 7 7 7 8 7 8 b 9 9 6 8 8 6 6 6 6 b c 9 7 6 7 3 . .",
    "3 4 3 2 2 3 3 3 3 3 3 2 4 5 5 8 7 7 7 8 5 5 5 5 6 8 8 7 8 8 8 8 8 7 7 7 7 8 9 8 8 8 6 5 6 5 8 7 7 7 8 8 8 7 7 7 7 8 7 7 7 6 6 7 8 . 4 . .",
    "3 3 3 2 3 3 2 3 2 2 3 2 5 4 5 5 7 6 5 4 4 5 5 5 4 4 4 7 7 6 5 5 5 5 5 4 5 6 6 7 7 8 5 5 6 5 5 5 4 5 5 7 7 8 7 5 6 7 7 4 4 5 5 . d 3 4 3 . .",
    "3 3 2 2 3 3 2 3 3 3 3 4 3 3 3 3 5 3 3 3 4 4 3 3 3 4 3 4 5 5 5 4 5 4 3 4 4 4 7 7 6 6 5 5 4 4 4 4 4 5 5 6 5 5 4 3 4 3 6 3 5 4 4 5 4 . . . . 3 4 .",
    "2 4 3 2 3 3 3 3 2 3 5 2 3 3 3 2 5 4 4 3 3 4 4 3 3 3 3 3 5 5 5 4 3 3 3 3 3 5 4 4 4 3 4 4 3 3 3 4 4 4 4 3 3 4 4 3 3 3 4 5 3 3 3 4 3 6 . . . 6 .",
    "3 3 3 2 2 3 3 3 4 3 3 3 4 3 3 3 8 4 8 3 4 4 4 3 3 5 3 3 3 4 4 4 4 3 4 4 3 5 5 5 2 2 5 5 4 3 3 3 3 3 6 6 3 5 6 3 3 4 5 5 4 3 4 4 5 4 4 . . . . 4 .",
    "3 3 2 3 3 3 3 3 3 2 3 3 3 4 3 7 7 7 8 8 5 4 5 3 3 5 6 6 3 7 4 5 4 5 4 5 5 5 2 6 7 5 3 3 4 5 4 3 3 4 4 7 7 6 5 5 6 3 3 3 5 4 4 4 4 8 4 4 . . . .",
    "3 3 3 2 2 3 3 4 3 3 3 4 2 6 6 8 4 8 6 5 5 3 5 7 6 4 7 5 6 6 5 4 4 5 5 7 7 5 3 5 6 6 3 5 3 6 5 4 4 4 7 6 3 5 3 5 4 4 3 2 2 5 4 3 4 3 . . . . . .",
    "3 3 3 3 3 3 3 3 3 3 4 3 5 3 6 6 5 6 7 6 6 4 5 6 7 6 5 6 5 6 6 7 7 6 5 5 5 4 3 5 6 7 7 4 5 6 7 4 4 4 6 6 4 5 7 4 4 4 3 3 4 5 5 3 4 4 . . . . . .",
    "2 3 3 3 4 3 3 2 4 3 3 3 3 4 4 4 3 6 5 3 7 7 7 7 6 5 5 4 4 7 7 7 4 5 5 3 4 6 6 6 5 5 5 5 6 6 5 3 4 5 4 4 7 3 5 4 6 3 3 3 3 3 4 3 4 4 7 . . . . .",
    "3 4 3 2 3 3 3 3 3 2 3 3 3 3 3 3 2 4 5 4 6 5 8 6 6 6 3 4 4 3 3 3 4 5 4 4 3 6 6 4 4 7 3 3 3 7 5 8 4 5 5 5 4 5 3 2 4 5 3 4 6 5 3 6 3 3 4 . 6 . . . .",
    "3 2 3 3 3 3 3 2 3 4 3 3 3 2 3 3 3 2 3 6 3 3 3 5 5 2 3 3 3 4 3 3 2 4 3 3 4 3 3 2 2 2 3 3 4 4 4 5 4 5 3 3 3 5 5 5 3 5 5 5 3 3 3 5 3 4 . 5 3 . . . .",
    "3 3 3 2 2 3 2 3 3 3 3 4 2 3 3 1 1 1 2 2 1 3 1 1 2 2 3 3 4 3 3 2 3 3 3 2 2 3 3 2 3 3 3 2 2 2 3 3 2 2 3 3 2 2 3 3 4 3 3 2 3 2 2 3 3 3 . . . . . .",
    "3 3 2 2 2 2 2 2 3 3 4 3 4 3 3 2 2 4 4 2 3 2 3 2 5 6 5 4 7 3 4 3 5 6 6 3 5 3 5 3 6 6 2 3 3 3 3 3 2 3 3 2 3 2 2 2 3 3 2 3 3 3 3 2 2 2 3 . 4 5 6 . . .",
    "2 3 3 3 2 2 3 3 3 3 3 3 8 4 4 4 4 4 3 3 4 7 7 8 6 6 8 3 8 4 a 3 4 5 4 5 3 3 8 7 6 7 3 3 5 2 3 6 3 5 4 6 6 6 3 4 4 3 5 3 4 3 3 3 3 2 . 3 6 . . .",
    "1 2 3 4 3 3 2 2 3 3 3 6 2 3 3 a 7 6 5 6 7 7 8 9 8 a 8 7 7 8 8 8 8 8 9 8 8 8 8 8 8 7 8 a 8 8 8 8 7 6 6 8 8 3 3 3 8 5 7 5 5 5 7 3 3 . 2 7 . . .",
    "2 3 3 2 6 3 2 2 3 3 8 3 3 8 a 7 5 6 7 7 d d d c a b c 7 4 a a 8 8 d b a 6 8 d d 8 8 4 d c 7 9 7 8 8 7 6 c 8 5 a 5 8 8 a 5 8 . 5 . . . a .",
    "2 5 5 5 3 4 3 2 2 2 5 5 4 7 7 c 9 7 b 8 d d d d d d d b b c 8 9 9 9 9 d 8 9 d d c 9 8 d d 9 9 c 9 d d d d 9 9 b a b a d 8 d 8 8 d 2 7 7 5 8 . .",
]

density_ion_ticks = [0.0, 0.2, 0.4, 0.6, 0.8, 1.0, 1.2, 1.4, 1.6]
density_ele_ticks = [0.0, 0.2, 0.4, 0.6, 0.8, 1.0, 1.2, 1.4, 1.6, 1.8]
temp_ion_ticks = [3000, 4000, 5000, 6000, 7000, 8000, 9000, 10000]
temp_ele_ticks = [0, 1000, 2000, 3000]

epoch_labels = ['\u22122', '\u22121', '0', '+1', '+2', '+3', '+4']
epoch_days = [-2, -1, 0, 1, 2, 3, 4]
lt_ticks = [0, 6, 12, 18, 24]

rainbow = LinearSegmentedColormap.from_list('idl_rainbow', [
    (0.00, '#000000'), (0.13, '#6a0a96'), (0.25, '#0a28ff'), (0.38, '#00aaff'),
    (0.44, '#00ffff'), (0.52, '#00ff99'), (0.63, '#00ff00'), (0.75, '#aaff00'),
    (0.80, '#ffff00'), (0.87, '#ff9900'), (0.94, '#ff0000'), (1.00, '#ff0000')], N=64)
rainbow.set_bad('#cccccc')


def px_axes(fig, x0, y0, x1, y1):
    return fig.add_axes([x0 / W, 1 - y1 / H, (x1 - x0) / W, (y1 - y0) / H])


def decode(rows, vmin, vmax):
    cells = []
    for row in rows:
        s = row.replace(' ', '').ljust(72, '.')[:72]
        cells.append([np.nan if ch == '.' else vmin + LEVELS[ch] * (vmax - vmin) for ch in s])
    return pd.DataFrame(cells)


def draw_panel(fig, rows, box, letter, letter_xy, title, title_xy, ticks, fmt, cb_label, cb_x, xlab_y, epoch_x):
    x0, y0, x1, y1 = box
    vmin, vmax = ticks[0], ticks[-1]
    ax = px_axes(fig, x0, y0, x1, y1)
    cax = px_axes(fig, x1 + 9.5, y0, x1 + 27, y1)
    sns.heatmap(decode(rows, vmin, vmax), ax=ax, cbar_ax=cax, cmap=rainbow, vmin=vmin, vmax=vmax,
                xticklabels=False, yticklabels=False)

    # axes ticks, outward on all four sides like the IDL plots
    ax.tick_params(which='both', left=True, right=True, top=True, bottom=True, direction='out', width=0.9)
    ax.tick_params(which='major', length=7, labelsize=12.5, pad=5, color='#222222')
    ax.tick_params(which='minor', length=3.5, color='#222222')
    ax.set_xticks([(d + 2) * 12 for d in epoch_days])
    ax.set_xticklabels(epoch_labels, rotation=0)
    ax.set_xticks(np.arange(0, 73, 3), minor=True)
    ax.set_yticks(lt_ticks)
    ax.set_yticklabels([str(v) for v in lt_ticks], rotation=0)
    ax.set_yticks(np.arange(0, 25), minor=True)
    for lab, d in zip(ax.get_xticklabels(), epoch_days):
        if d >= 0:
            lab.set_transform(lab.get_transform() + ScaledTranslation(3 / 100, 0, fig.dpi_scale_trans))
    ylabs = ax.get_yticklabels()
    ylabs[0].set_transform(ylabs[0].get_transform() + ScaledTranslation(0, -4.5 / 100, fig.dpi_scale_trans))
    ylabs[-1].set_transform(ylabs[-1].get_transform() + ScaledTranslation(0, 4.5 / 100, fig.dpi_scale_trans))
    for side in ax.spines.values():
        side.set_visible(True)
        side.set_linewidth(0.8)
        side.set_color('#666666')

    # trigger line
    ax.axvline(epoch_x, color='#e8202a', lw=1.4, ls=(0, (2.2, 1.8)))

    # colour bar, first and last labels pulled inward
    span = vmax - vmin
    pos = [vmin + 0.015 * span] + list(ticks[1:-1]) + [vmax - 0.015 * span]
    cax.set_yticks(pos)
    cax.set_yticklabels([fmt.format(t) for t in ticks])
    cax.tick_params(axis='y', length=0, pad=4, labelsize=11, right=True, left=False)
    for side in cax.spines.values():
        side.set_visible(True)
        side.set_linewidth(0.8)
        side.set_color('#666666')

    ymid = (y0 + y1) / 2
    fig.text((x0 - 47) / W, 1 - ymid / H, 'LOCAL TIME', rotation=90, ha='center', va='center', fontsize=10.5)
    fig.text((x0 + x1) / 2 / W, 1 - xlab_y / H, 'EPOCH TIME (Days)', ha='center', va='center', fontsize=11)
    fig.text(title_xy[0] / W, 1 - title_xy[1] / H, title, ha='center', va='center', fontsize=12.6)
    fig.text(cb_x / W, 1 - ymid / H, cb_label, rotation=90, ha='center', va='center', fontsize=9.7)
    fig.text(letter_xy[0] / W, 1 - letter_xy[1] / H, letter, ha='center', va='center', fontsize=25, family='Open Sans')


fig = plt.figure(figsize=(W / 100, H / 100), dpi=100)

dens = 'DENSITY (cm$^{-3}$)'
temp = 'TEMPERATURE (eV)'
LX = (68.2, 453)
RX = (655.5, 1039.5)

draw_panel(fig, panel_a, (LX[0], 57.3, LX[1], 349), 'a', (26, 72), 'DENSITY : HOT  ION', (274, 43),
           density_ion_ticks, '{:.1f}', dens, 519, 389, 24.3)
draw_panel(fig, panel_b, (LX[0], 471.7, LX[1], 764), 'b', (30, 491), 'DENSITY : HOT  ELECTRONS', (274, 458),
           density_ele_ticks, '{:.1f}', dens, 519, 804, 24.3)
draw_panel(fig, panel_c, (LX[0], 888.3, LX[1], 1180.7), 'c', (24, 905), 'TEMPERATURE : HOT  IONS', (274, 874),
           temp_ion_ticks, '{:d}', temp, 541, 1221, 24.3)
draw_panel(fig, panel_d, (LX[0], 1307, LX[1], 1599.3), 'd', (25, 1330), 'TEMPERATURE : HOT  ELECTRONS', (274, 1293),
           temp_ele_ticks, '{:d}', temp, 532, 1639, 24.3)

draw_panel(fig, panel_e, (RX[0], 57.3, RX[1], 349), 'e', (619, 75), 'DENSITY : HOT  ION', (861, 43),
           density_ion_ticks, '{:.1f}', dens, 1106, 389, 24)
draw_panel(fig, panel_f, (RX[0], 471.7, RX[1], 764), 'f', (613, 502), 'DENSITY : HOT  ELECTRONS', (861, 458),
           density_ele_ticks, '{:.1f}', dens, 1106, 804, 24)
draw_panel(fig, panel_g, (RX[0], 887.3, RX[1], 1180), 'g', (608, 906), 'TEMPERATURE : HOT  IONS', (861, 874),
           temp_ion_ticks, '{:d}', temp, 1127, 1220, 24)
draw_panel(fig, panel_h, (RX[0], 1303, RX[1], 1595), 'h', (614, 1324), 'TEMPERATURE : HOT  ELECTRONS', (861, 1289),
           temp_ele_ticks, '{:d}', temp, 1119, 1636, 24)

for cx, txt in [(261, 'Trigger on Onset of Dropout'), (862, 'Trigger on Recovery of Dropout')]:
    fig.text(cx / W, 1 - 14 / H, txt, ha='center', va='center', fontsize=13.7, fontweight='bold',
             family='Liberation Serif', color='#222222')

fig.savefig('out.png', dpi=100)
